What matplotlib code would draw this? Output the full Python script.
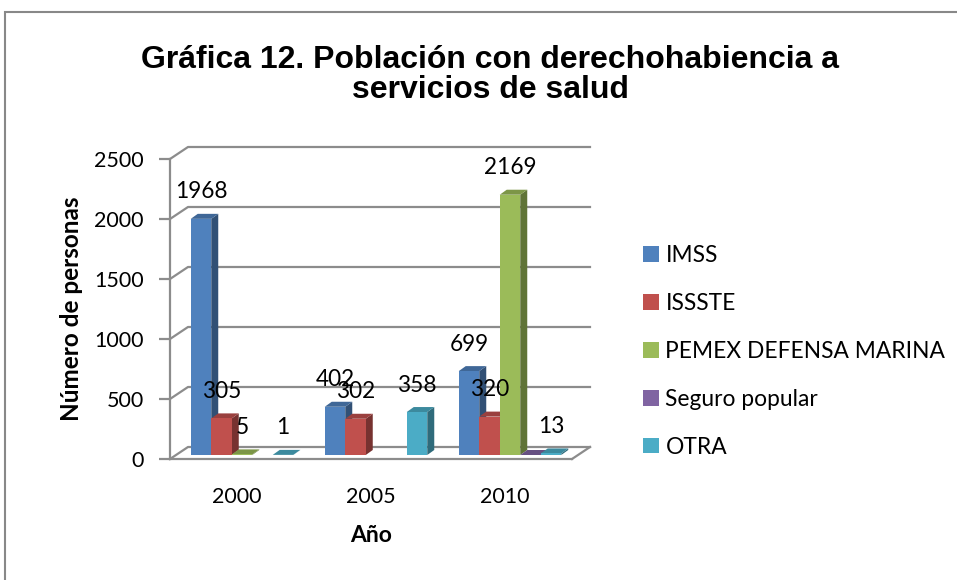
import numpy as np
import matplotlib
matplotlib.use("Agg")
import matplotlib.pyplot as plt
from matplotlib.patches import Polygon, Rectangle

# ---- data ----
categories = ["2000", "2005", "2010"]
series_names = ["IMSS", "ISSSTE", "PEMEX DEFENSA MARINA", "Seguro popular", "OTRA"]
imss = [1968, 402, 699]
issste = [305, 302, 320]
pemex = [5, np.nan, 2169]
seguro = [np.nan, np.nan, 0]
otra = [1, 358, 13]
show_label_seguro = [False, False, False]
colors = ["#4F81BD", "#C0504D", "#9BBB59", "#8064A2", "#4BACC6"]
y_ticks = [0, 500, 1000, 1500, 2000, 2500]

series = [imss, issste, pemex, seguro, otra]

FONT = "Lato"
W, H = 957, 580
fig = plt.figure(figsize=(W / 100, H / 100), dpi=100)

# front plane in pixels
ax_l, ax_r, ax_b, ax_t = 170, 572, 459, 159
ax = fig.add_axes([ax_l / W, (H - ax_b) / H, (ax_r - ax_l) / W, (ax_b - ax_t) / H])
ax.set_xlim(-0.5, 2.5)
ax.set_ylim(0, 2500)
ax.patch.set_alpha(0)

pxx = (ax_r - ax_l) / 3.0      # px per x unit
pxy = (ax_b - ax_t) / 2500.0   # px per y unit

grid_c = "#8C8C8C"
# back wall depth
bdx, bdy = 18 / pxx, 12 / pxy
for v in y_ticks:
    ax.plot([-0.5, -0.5 + bdx, 2.5 + bdx], [v, v + bdy, v + bdy],
            color=grid_c, lw=1.6, clip_on=False, zorder=1)
# floor right diagonal
ax.plot([2.5, 2.5 + bdx], [0, bdy], color=grid_c, lw=1.6, clip_on=False, zorder=1)

# spines
for s in ["top", "right"]:
    ax.spines[s].set_visible(False)
for s in ["left", "bottom"]:
    ax.spines[s].set_color(grid_c)
    ax.spines[s].set_linewidth(1.6)
ax.spines["bottom"].set_zorder(5)

ax.set_yticks(y_ticks)
ax.set_yticklabels([str(v) for v in y_ticks], fontsize=15.5, family=FONT)
ax.tick_params(axis="y", length=8, width=1.6, color=grid_c, pad=11)
ax.set_xticks(range(len(categories)))
ax.set_xticklabels(categories, fontsize=15.5, family=FONT)
ax.tick_params(axis="x", length=0, pad=20)

ax.set_ylabel("Número de personas", fontsize=17.5, family=FONT, fontweight="bold", labelpad=8)
ax.set_xlabel("Año", fontsize=16.5, family=FONT, fontweight="bold", labelpad=13)


def shade(c, f):
    c = np.array(matplotlib.colors.to_rgb(c))
    return tuple(c * f)

# bars
bw = 20.5 / pxx
odx, ody = 5 / pxx, 4 / pxy         # bar plane offset
ddx, ddy = 7 / pxx, 5 / pxy         # bar depth
nser = len(series)
for si, vals in enumerate(series):
    col = colors[si]
    for ci, v in enumerate(vals):
        if v is None or (isinstance(v, float) and np.isnan(v)):
            continue
        x0 = ci + (si - (nser - 1) / 2) * bw - bw / 2 + odx
        x1 = x0 + bw
        y0 = ody
        y1 = v + ody
        z = 3 + si
        ax.add_patch(Polygon([(x1, y0), (x1 + ddx, y0 + ddy), (x1 + ddx, y1 + ddy), (x1, y1)],
                             closed=True, facecolor=shade(col, 0.62), edgecolor="none",
                             clip_on=False, zorder=z))
        ax.add_patch(Polygon([(x0, y1), (x0 + ddx, y1 + ddy), (x1 + ddx, y1 + ddy), (x1, y1)],
                             closed=True, facecolor=shade(col, 0.8), edgecolor="none",
                             clip_on=False, zorder=z))
        ax.add_patch(Rectangle((x0, y0), bw, v, facecolor=col, edgecolor="none",
                               clip_on=False, zorder=z))
        show = True
        if si == 3:
            show = show_label_seguro[ci]
        if show:
            ax.annotate(f"{v:g}", xy=((x0 + x1) / 2, y1), xytext=(0, 27),
                        textcoords="offset pixels", ha="center", va="center",
                        fontsize=16.3, family=FONT, zorder=20, annotation_clip=False)

# legend
handles = [Rectangle((0, 0), 1, 1, facecolor=c, edgecolor="none") for c in colors]
leg = fig.legend(handles, series_names, loc="upper left",
                 bbox_to_anchor=(634 / W, 1 - 236 / H), frameon=False,
                 prop={"family": FONT, "size": 16.4}, handlelength=0.68, handleheight=0.68,
                 handletextpad=0.3, labelspacing=1.18, borderaxespad=0)

# title
fig.text(490 / W, 1 - 75 / H, "Gráfica 12. Población con derechohabiencia a\nservicios de salud",
         ha="center", va="center", fontsize=23, fontweight="bold",
         family="Liberation Sans", linespacing=1.0)

# chart border
fig.patches.append(Rectangle((5 / W, -0.1), 1.2, 1 - 12 / H + 0.1, transform=fig.transFigure,
                             fill=False, edgecolor="#888888", lw=1.5))

fig.savefig("out.png", dpi=100)
